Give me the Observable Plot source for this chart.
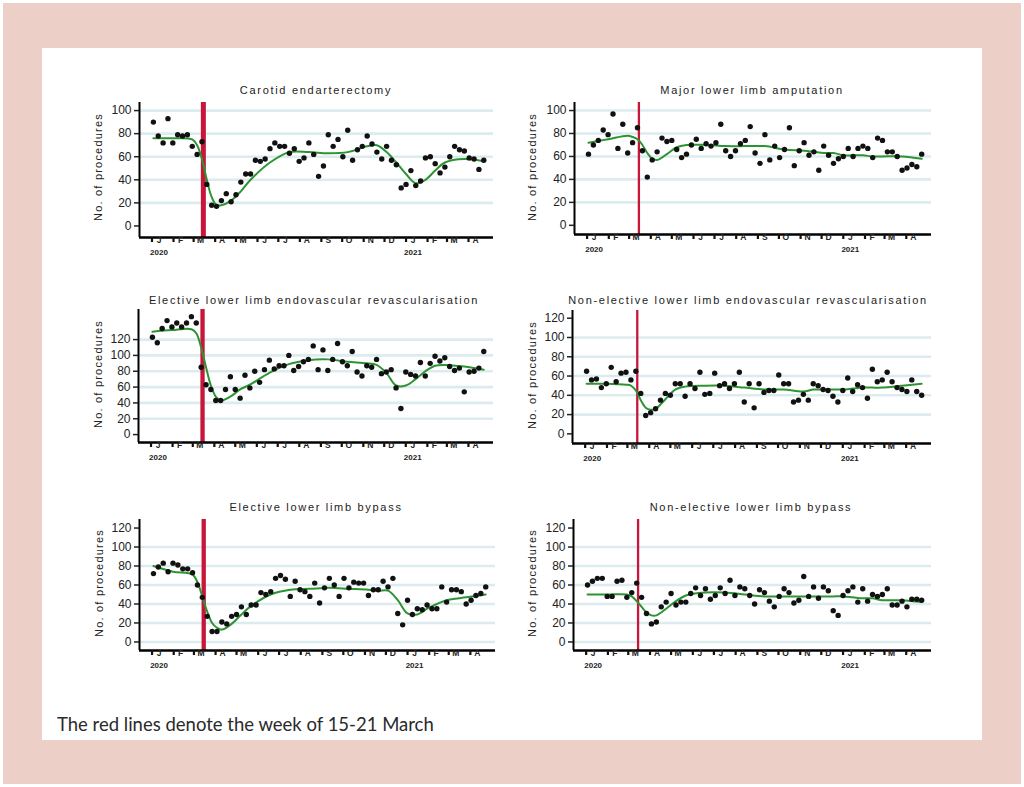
<!DOCTYPE html>
<html><head><meta charset="utf-8">
<script src="https://cdn.jsdelivr.net/npm/d3@7"></script>
<script src="https://cdn.jsdelivr.net/npm/@observablehq/plot@0.6"></script>
<style>
html,body{margin:0;padding:0;background:#fff;}
#page{position:relative;width:1024px;height:787px;overflow:hidden;font-family:"Liberation Sans",Arial,sans-serif;}
#pink{position:absolute;left:3px;top:3px;width:1018px;height:781px;background:#ecd0c7;}
#inner{position:absolute;left:42px;top:48px;width:940px;height:692px;background:#fff;}
.title{position:absolute;transform:translate(-50%,-50%);font-size:11px;letter-spacing:1.7px;color:#222;white-space:nowrap;}
.ylab{position:absolute;transform:translate(-50%,-50%) rotate(-90deg);font-size:11px;letter-spacing:1.2px;color:#222;white-space:nowrap;}
.plot{position:absolute;}
#caption{position:absolute;left:57px;top:713px;font-family:Lato,"Open Sans",sans-serif;font-size:18.5px;color:#2a2a2a;white-space:nowrap;}
</style></head>
<body><div id="page"><div id="pink"></div><div id="inner"></div><div id="caption">The red lines denote the week of 15-21 March</div></div>
<script>
// ---- data ----
const firstWeek = "2020-01-03";          // first weekly observation
const redWeek = "2020-03-15";            // week of 15-21 March
const xStartDate = "2019-12-14", xEndDate = "2021-05-07";
const monthLabels = ["J","F","M","A","M","J","J","A","S","O","N","D","J","F","M","A"];
const monthStartDates = ["2020-01-01","2020-02-01","2020-03-01","2020-04-01","2020-05-01","2020-06-01","2020-07-01","2020-08-01","2020-09-01","2020-10-01","2020-11-01","2020-12-01","2021-01-01","2021-02-01","2021-03-01","2021-04-01"];
const yearLabels = ["2020","2021"];
const yearDates = ["2020-01-11","2021-01-11"];
const fitWeeks = [0,4,8,9,10,11,12,13,14,16,18,20,24,28,32,36,40,44,46,48,50,52,54,56,58,60,64,68];

const carotid = [90,78,72,93,72,79,78,79,69,62,73,36,18,17,22,28,21,27,38,45,45,57,56,58,67,72,69,69,63,67,56,59,72,62,43,52,79,69,75,60,83,57,66,69,78,71,64,58,69,57,53,33,36,48,35,39,59,60,54,46,51,60,69,66,65,59,58,49,57];
const carotidFit = [76,76,75,70,58,40,25,18,18,22,30,40,55,64,64,63,64,69,70,64,55,45,37,40,48,55,58,56];

const amputation = [62,70,74,83,79,97,67,88,63,72,85,65,42,57,64,76,73,74,66,59,62,70,75,67,71,69,72,88,65,60,65,71,74,86,63,54,79,57,69,59,66,85,52,65,72,61,64,48,69,61,54,58,60,67,60,67,69,67,59,76,74,64,64,60,48,50,53,51,62];
const amputationFit = [72,75,78,77,75,70,63,58,57,62,68,70,70,69,69,69,66,65,64,63,63,61,61,61,60,60,60,58];

const electiveEndo = [123,116,134,144,136,141,136,141,149,141,85,63,57,43,43,57,73,57,46,75,59,80,66,82,94,83,87,87,100,81,86,92,95,112,82,107,81,95,115,92,87,105,79,74,87,85,95,77,79,82,59,33,79,76,74,91,74,90,99,93,97,86,81,84,54,79,80,84,105];
const electiveEndoFit = [130,132,133,128,110,85,62,48,43,48,57,63,78,89,94,95,92,90,88,78,62,62,70,80,87,88,86,82];

const nonElectiveEndo = [65,56,57,48,52,69,54,63,64,56,65,42,19,22,26,35,42,40,52,52,39,52,47,64,41,42,63,50,52,47,52,64,33,52,27,52,43,45,45,61,52,52,33,35,41,35,52,50,46,45,39,33,45,58,44,51,48,37,67,54,56,64,54,48,46,44,56,44,40];
const nonElectiveEndoFit = [52,52,51,50,45,35,27,25,26,36,46,49,50,50,48,46,46,44,46,46,46,46,47,48,48,48,50,52];

const electiveBypass = [72,79,83,74,83,81,77,77,73,60,47,27,11,11,21,19,27,29,37,29,39,39,52,50,53,67,70,66,48,64,55,53,48,62,41,57,67,60,48,67,57,63,62,62,49,55,55,64,58,67,30,18,44,29,35,34,39,35,35,58,42,55,55,53,40,44,49,51,58];
const electiveBypassFit = [80,74,71,63,48,32,20,15,13,19,29,38,50,55,56,57,56,55,54,54,44,30,29,35,40,44,47,50];

const nonElectiveBypass = [60,64,67,67,48,48,64,65,47,52,62,47,30,19,21,37,42,51,39,42,42,51,57,49,56,45,49,57,51,65,49,58,56,49,40,55,52,43,37,48,56,52,41,44,69,48,58,46,58,54,33,28,49,54,58,42,56,43,50,48,50,56,39,39,43,37,45,45,44];
const nonElectiveBypassFit = [50,50,50,48,43,37,31,28,28,35,43,49,52,52,50,48,48,48,48,48,48,48,47,46,46,44,44,42];

const titles = ["Carotid endarterectomy","Major lower limb amputation","Elective lower limb endovascular revascularisation","Non-elective lower limb endovascular revascularisation","Elective lower limb bypass","Non-elective lower limb bypass"];
const yLabel = "No. of procedures";

// ---- layout ----
const panels = [
  {title: titles[0], values: carotid, fit: carotidFit, left:139, right:493, top:102, bottom:237, ydomain:[-10,107], yticks:[0,20,40,60,80,100], grid:[20,40,60,80,100], red:5, tx:316, ty:90, lx:98, ly:167},
  {title: titles[1], values: amputation, fit: amputationFit, left:574, right:931, top:102, bottom:234, ydomain:[-8,107], yticks:[0,20,40,60,80,100], grid:[20,40,60,80,100], red:2.3, tx:752, ty:90, lx:532, ly:167},
  {title: titles[2], values: electiveEndo, fit: electiveEndoFit, left:138, right:493, top:309, bottom:442, ydomain:[-10,158], yticks:[0,20,40,60,80,100,120], grid:[20,40,60,80,100,120], red:4.3, tx:314, ty:300, lx:98, ly:374},
  {title: titles[3], values: nonElectiveEndo, fit: nonElectiveEndoFit, left:572, right:931, top:310, bottom:443, ydomain:[-10,128], yticks:[0,20,40,60,80,100,120], grid:[20,40,60,80,100], red:2.3, tx:748, ty:300, lx:532, ly:375},
  {title: titles[4], values: electiveBypass, fit: electiveBypassFit, left:139, right:495, top:519, bottom:650, ydomain:[-9,129], yticks:[0,20,40,60,80,100,120], grid:[0,20,40,60,80,100], red:4.3, tx:316, ty:507, lx:99, ly:583},
  {title: titles[5], values: nonElectiveBypass, fit: nonElectiveBypassFit, left:573, right:931, top:519, bottom:650, ydomain:[-9,129], yticks:[0,20,40,60,80,100,120], grid:[0,20,40,60,80,100], red:2.3, tx:751, ty:507, lx:532, ly:583}
];

const parse = s => new Date(s + "T00:00:00Z");
const week0 = parse(firstWeek);
const weekDate = i => new Date(week0.getTime() + i * 7 * 864e5);
const xStart = parse(xStartDate), xEnd = parse(xEndDate);
const monthStarts = monthStartDates.map(parse);
const months = monthStarts.map((d, i) => ({date: d, t: monthLabels[i]}));
const page = document.getElementById("page");

panels.forEach(p => {
  const mL = 45, mR = 4, mT = 4, mB = 30;
  const w = p.right - p.left + mL + mR;
  const h = p.bottom - p.top + mT + mB;
  const pts = p.values.map((v, i) => ({date: weekDate(i), v}));
  const fit = fitWeeks.map((wk, j) => ({date: weekDate(wk), v: p.fit[j]}));
  const years = yearLabels.map((t, i) => ({date: parse(yearDates[i]), t}));
  const svg = Plot.plot({
    width: w, height: h, marginLeft: mL, marginRight: mR, marginTop: mT, marginBottom: mB,
    x: {type: "utc", domain: [xStart, xEnd], axis: null},
    y: {domain: p.ydomain, axis: null},
    style: {fontFamily: "'Liberation Sans', Arial, sans-serif", background: "transparent", overflow: "visible"},
    marks: [
      Plot.ruleY(p.grid, {stroke: "#dcebee", strokeWidth: 2.6}),
      Plot.ruleX([parse(redWeek)], {stroke: "#c8163a", strokeWidth: p.red}),
      Plot.line(fit, {x: "date", y: "v", stroke: "#2c9433", strokeWidth: 2, curve: "catmull-rom"}),
      Plot.dot(pts, {x: "date", y: "v", r: 2.7, fill: "#111", stroke: "none"}),
      Plot.ruleX([xStart], {stroke: "#000", strokeWidth: 2}),
      Plot.ruleY([p.ydomain[0]], {stroke: "#000", strokeWidth: 2.5}),
      Plot.axisY({ticks: p.yticks, tickSize: 5, tickPadding: 3, fontSize: 12, label: null, color: "#222", strokeWidth: 1.5}),
      Plot.axisX({ticks: monthStarts, tickSize: 5, tickFormat: () => "", label: null, strokeWidth: 2.2, color: "#111"}),
      Plot.text(months, {x: "date", text: "t", frameAnchor: "bottom", dx: 7, dy: 5, fontSize: 8.5, fontWeight: "bold", fill: "#222"}),
      Plot.text(years, {x: "date", text: "t", frameAnchor: "bottom", dy: 17, fontSize: 8, fontWeight: "bold", fill: "#222", letterSpacing: 1})
    ]
  });
  const wrap = document.createElement("div");
  wrap.className = "plot";
  wrap.style.left = (p.left - mL) + "px";
  wrap.style.top = (p.top - mT) + "px";
  wrap.appendChild(svg);
  page.appendChild(wrap);
  const t = document.createElement("div");
  t.className = "title"; t.textContent = p.title;
  t.style.left = p.tx + "px"; t.style.top = p.ty + "px";
  page.appendChild(t);
  const l = document.createElement("div");
  l.className = "ylab"; l.textContent = yLabel;
  l.style.left = p.lx + "px"; l.style.top = p.ly + "px";
  page.appendChild(l);
});
</script>
</body></html>
